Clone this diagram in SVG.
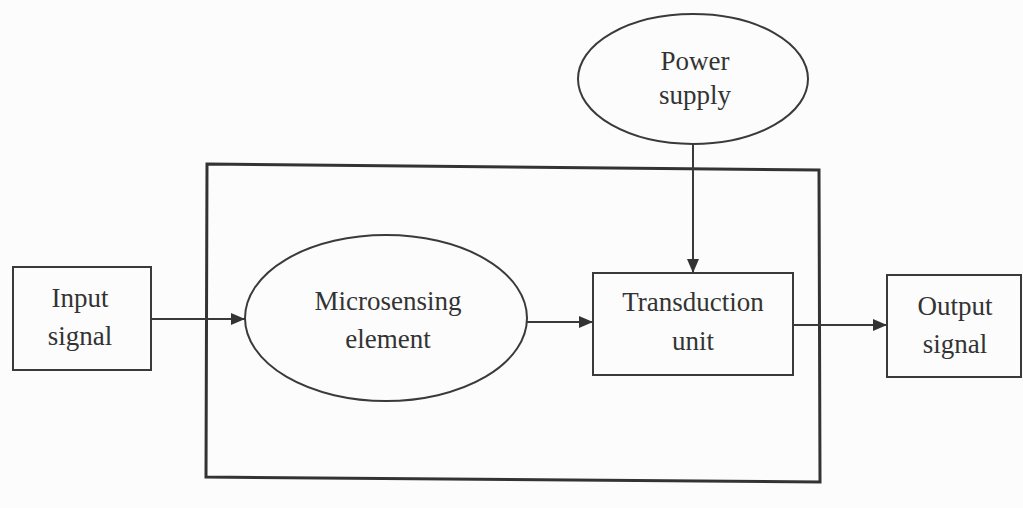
<svg xmlns="http://www.w3.org/2000/svg" width="1023" height="508" viewBox="0 0 1023 508">
  <style>
    .shape { fill: none; stroke: #3a3a3a; stroke-width: 2; }
    .frame { fill: none; stroke: #333; stroke-width: 3; }
    .link { fill: none; stroke: #3a3a3a; stroke-width: 2; }
    .label { font-family: "Liberation Serif", "Times New Roman", serif; font-size: 27px; fill: #333; text-anchor: middle; }
  </style>
  <defs>
    <marker id="arrow" viewBox="0 0 14 12" refX="14" refY="6" markerWidth="14" markerHeight="12" markerUnits="userSpaceOnUse" orient="auto">
      <path d="M0,0 L14,6 L0,12 Z" fill="#333"/>
    </marker>
  </defs>
  <rect width="1023" height="508" fill="#fcfcfc"/>

  <!-- enclosing system boundary -->
  <g id="system">
    <polygon class="frame" points="207,164 819,170 820,482 206,477"/>
  </g>

  <g id="input">
    <rect class="shape" x="13" y="267" width="138" height="103"/>
    <text class="label" x="80" y="307">Input</text>
    <text class="label" x="80" y="345">signal</text>
  </g>

  <g id="microsensing">
    <ellipse class="shape" cx="386" cy="318" rx="141" ry="83"/>
    <text class="label" x="388" y="310">Microsensing</text>
    <text class="label" x="388" y="348">element</text>
  </g>

  <g id="power">
    <ellipse class="shape" cx="693" cy="79" rx="115" ry="65"/>
    <text class="label" x="695" y="70">Power</text>
    <text class="label" x="695" y="104">supply</text>
  </g>

  <g id="transduction">
    <rect class="shape" x="593" y="273" width="200" height="102"/>
    <text class="label" x="693" y="311">Transduction</text>
    <text class="label" x="693" y="350">unit</text>
  </g>

  <g id="output">
    <rect class="shape" x="887" y="275" width="134" height="102"/>
    <text class="label" x="955" y="315">Output</text>
    <text class="label" x="955" y="353">signal</text>
  </g>

  <g id="connectors">
    <line class="link" x1="151" y1="319" x2="245" y2="319" marker-end="url(#arrow)"/>
    <line class="link" x1="527" y1="322" x2="593" y2="322" marker-end="url(#arrow)"/>
    <line class="link" x1="693" y1="144" x2="693" y2="273" marker-end="url(#arrow)"/>
    <line class="link" x1="793" y1="325" x2="887" y2="325" marker-end="url(#arrow)"/>
  </g>
</svg>
